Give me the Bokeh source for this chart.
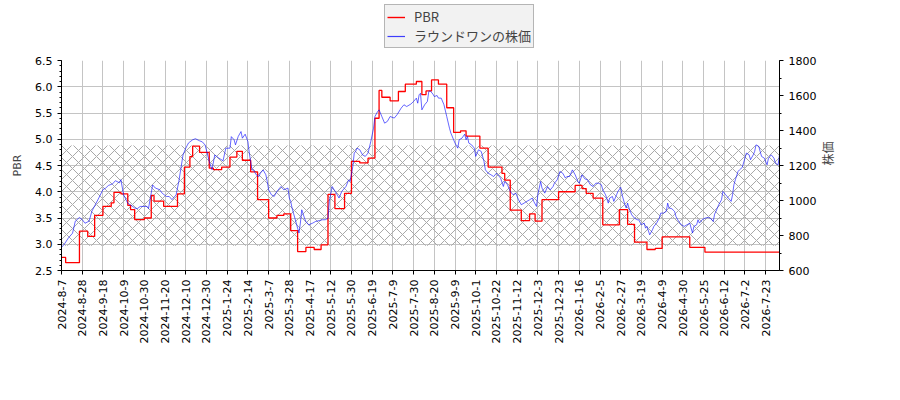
import math
from bokeh.plotting import figure
from bokeh.layouts import column
from bokeh.models import (Range1d, LinearAxis, FixedTicker, SingleIntervalTicker,
                          BoxAnnotation, Legend, LegendItem, NumeralTickFormatter)
from bokeh.embed import file_html
from bokeh.resources import INLINE

# x positions are trading-day indices; tick labels every 15 days
tick_labels = ["2024-8-7", "2024-8-28", "2024-9-18", "2024-10-9", "2024-10-30",
               "2024-11-20", "2024-12-10", "2024-12-30", "2025-1-24", "2025-2-14",
               "2025-3-7", "2025-3-28", "2025-4-17", "2025-5-12", "2025-5-30",
               "2025-6-19", "2025-7-9", "2025-7-30", "2025-8-20", "2025-9-9",
               "2025-10-1", "2025-10-22", "2025-11-12", "2025-12-3", "2025-12-23",
               "2026-1-16", "2026-2-5", "2026-2-27", "2026-3-19", "2026-4-9",
               "2026-4-30", "2026-5-25", "2026-6-12", "2026-7-2", "2026-7-23"]
tick_step = 15
last_day = 520

# PBR (step series: day where value changes, new value)
pbr_day = [0, 3, 13, 19, 24, 30, 36, 38, 43, 48, 50, 53, 60, 65, 67, 74, 84, 89,
           93, 95, 100, 107, 110, 116, 122, 127, 131, 137, 142, 150, 156, 161, 166,
           171, 177, 183, 188, 193, 198, 205, 210, 216, 222, 227, 230, 232, 238, 244,
           249, 257, 261, 264, 268, 273, 279, 284, 289, 293, 303, 309, 319, 321, 325,
           333, 339, 343, 348, 360, 372, 377, 380, 385, 392, 404, 410, 415, 424, 430,
           435, 455, 466]
pbr_val = [2.75, 2.65, 3.25, 3.15, 3.55, 3.72, 3.79, 3.99, 3.96, 3.74, 3.66, 3.47,
           3.5, 3.93, 3.82, 3.72, 3.96, 4.47, 4.67, 4.87, 4.75, 4.45, 4.42, 4.47,
           4.66, 4.77, 4.6, 4.38, 3.85, 3.5, 3.55, 3.58, 3.26, 2.86, 2.94, 2.9,
           2.99, 3.95, 3.68, 3.97, 4.58, 4.55, 4.64, 5.4, 5.93, 5.8, 5.73, 5.91,
           6.05, 6.1, 5.85, 5.92, 6.13, 6.05, 5.6, 5.13, 5.16, 5.06, 4.83, 4.47,
           4.35, 4.22, 3.65, 3.45, 3.58, 3.44, 3.85, 4.0, 4.12, 4.06, 3.97, 3.88,
           3.37, 3.66, 3.38, 3.04, 2.9, 2.92, 3.14, 2.94, 2.85]

# share price
price_day = [0, 2, 5, 8, 10, 13, 15, 17, 20, 22, 25, 27, 30, 32, 34, 37, 39, 42, 43,
             45, 48, 50, 53, 55, 57, 60, 62, 63, 66, 68, 71, 73, 76, 78, 80, 83, 85,
             88, 90, 92, 95, 97, 100, 102, 104, 107, 109, 111, 114, 117, 119, 122,
             123, 125, 126, 128, 130, 131, 133, 135, 136, 137, 138, 139, 141, 143,
             144, 146, 148, 149, 150, 152, 154, 156, 159, 161, 164, 165, 166, 167,
             168, 170, 171, 172, 173, 174, 176, 177, 179, 182, 184, 187, 189, 191,
             193, 194, 196, 199, 201, 203, 206, 208, 209, 211, 212, 213, 214, 216,
             218, 220, 222, 224, 226, 227, 229, 230, 232, 234, 236, 238, 241, 243,
             246, 248, 250, 253, 255, 257, 258, 259, 260, 261, 263, 265, 266, 267,
             269, 270, 272, 273, 275, 277, 279, 281, 282, 284, 285, 287, 288, 290,
             292, 293, 294, 295, 297, 299, 300, 301, 302, 304, 306, 307, 309, 311,
             313, 315, 316, 318, 320, 321, 323, 325, 327, 329, 331, 333, 335, 337,
             339, 341, 342, 344, 345, 347, 348, 350, 352, 354, 356, 357, 359, 361,
             363, 365, 366, 368, 370, 372, 374, 375, 377, 379, 381, 383, 385, 387,
             389, 391, 392, 394, 396, 397, 399, 400, 402, 403, 405, 406, 408, 409,
             410, 411, 413, 415, 417, 418, 420, 422, 423, 424, 426, 428, 429, 431,
             433, 434, 436, 438, 439, 440, 442, 444, 445, 447, 449, 451, 453, 455,
             456, 457, 458, 460, 461, 462, 464, 466, 468, 470, 472, 473, 474, 476,
             478, 479, 481, 483, 485, 486, 487, 488, 490, 491, 493, 495, 496, 498,
             499, 501, 502, 503, 505, 506, 507, 509, 511, 512, 514, 516, 517, 519, 520]
price_val = [732, 750, 786, 813, 882, 903, 891, 870, 882, 939, 984, 1014, 1062, 1071,
             1086, 1095, 1113, 1101, 1119, 1032, 984, 975, 957, 954, 966, 966, 966,
             954, 1089, 1071, 1062, 1041, 1023, 1023, 1005, 1032, 1110, 1260, 1299,
             1329, 1347, 1353, 1341, 1335, 1317, 1224, 1176, 1260, 1242, 1227, 1299,
             1299, 1365, 1347, 1318, 1366, 1394, 1356, 1379, 1337, 1271, 1223, 1175,
             1175, 1147, 1137, 1156, 1175, 1147, 1109, 1061, 1033, 1023, 1052, 1080,
             1061, 1071, 1014, 995, 956, 928, 871, 842, 814, 871, 947, 899, 880, 861,
             871, 880, 886, 890, 890, 899, 995, 1080, 1042, 1014, 1052, 1080, 1118,
             1109, 1194, 1271, 1280, 1299, 1290, 1261, 1252, 1271, 1337, 1413, 1480,
             1509, 1518, 1480, 1442, 1452, 1480, 1471, 1490, 1528, 1547, 1537, 1551,
             1566, 1585, 1556, 1604, 1613, 1518, 1547, 1566, 1623, 1627, 1608, 1594,
             1600, 1585, 1585, 1547, 1480, 1413, 1385, 1347, 1328, 1299, 1347, 1356,
             1379, 1347, 1366, 1328, 1318, 1299, 1252, 1271, 1290, 1280, 1223, 1175,
             1156, 1147, 1137, 1156, 1147, 1128, 1080, 1109, 1090, 1052, 1033, 1042,
             1004, 976, 985, 995, 1004, 1014, 995, 966, 1033, 1109, 1071, 1042, 1080,
             1061, 1080, 1099, 1118, 1166, 1156, 1128, 1137, 1137, 1175, 1147, 1109,
             1099, 1147, 1124, 1118, 1090, 1080, 1099, 1099, 1090, 1061, 1033, 985,
             1014, 1023, 995, 1033, 1052, 1075, 1033, 976, 957, 985, 957, 918, 899,
             890, 890, 861, 871, 842, 852, 804, 833, 852, 871, 899, 928, 928, 938,
             985, 957, 953, 938, 909, 880, 861, 852, 861, 871, 842, 814, 852, 861,
             890, 871, 890, 899, 903, 899, 880, 922, 938, 976, 1004, 1052, 1033, 1014,
             995, 1033, 1090, 1118, 1166, 1175, 1189, 1242, 1271, 1261, 1233, 1261,
             1280, 1318, 1309, 1280, 1252, 1242, 1204, 1242, 1261, 1242, 1214, 1204,
             1261]

# hatched PBR band
band_low = 2.97
band_high = 4.88

font = "DejaVu Sans"
jp_font = "Noto Sans CJK JP"
fs = "11px"
pbr_color = "red"
price_color = "blue"

p = figure(width=884, height=336, output_backend="svg", toolbar_location=None,
           x_range=Range1d(0, last_day), y_range=Range1d(2.5, 6.5),
           min_border_left=61, min_border_right=105, min_border_top=12,
           min_border_bottom=114)
p.outline_line_color = None
p.background_fill_color = "white"

p.extra_y_ranges = {"price": Range1d(600, 1800)}

band = BoxAnnotation(bottom=band_low, top=band_high, fill_alpha=0, line_color=None,
                     hatch_pattern="x", hatch_color="#a8a8a8", hatch_scale=12,
                     hatch_weight=1, hatch_alpha=1, level="underlay")
p.add_layout(band)

step_x = pbr_day + [last_day]
step_y = pbr_val + [pbr_val[-1]]
p.step(step_x, step_y, mode="after", line_color=pbr_color, line_width=1.3)
p.line(price_day, price_val, line_color=price_color, line_alpha=0.75,
       line_width=0.8, y_range_name="price")

ticks = [i * tick_step for i in range(len(tick_labels))]
p.xaxis.ticker = FixedTicker(ticks=ticks, minor_ticks=[])
p.xaxis.major_label_overrides = {t: lab for t, lab in zip(ticks, tick_labels)}
p.xaxis.major_label_orientation = math.pi / 2

p.yaxis.ticker = SingleIntervalTicker(interval=0.5, num_minor_ticks=5)
p.yaxis.formatter = NumeralTickFormatter(format="0.0")
p.yaxis.axis_label = "PBR"

right = LinearAxis(y_range_name="price", axis_label="株価",
                   ticker=SingleIntervalTicker(interval=200, num_minor_ticks=2))
p.add_layout(right, "right")
if hasattr(right, "axis_label_orientation"):
    right.axis_label_orientation = math.pi / 2

for ax in p.xaxis + p.yaxis + [right]:
    ax.major_label_text_font = font
    ax.major_label_text_font_size = fs
    ax.major_label_text_color = "black"
    ax.axis_label_text_font_size = fs
    ax.axis_label_text_font_style = "normal"
    ax.axis_label_text_font = font
    ax.axis_line_color = "black"
    ax.major_tick_in = 0
    ax.major_tick_out = 4
    ax.minor_tick_in = 0
    ax.minor_tick_out = 2
    ax.major_tick_line_color = "black"
    ax.minor_tick_line_color = "black"
right.axis_label_text_font = jp_font
right.axis_label_text_font_size = "12px"
right.axis_label_standoff = 14
p.yaxis.axis_label_standoff = 8

p.xgrid.ticker = FixedTicker(ticks=ticks)
p.xgrid.grid_line_color = "#c4c4c4"
p.ygrid.grid_line_color = "#c4c4c4"
p.xgrid.grid_line_width = 1
p.ygrid.grid_line_width = 1

# legend sits in a strip above the chart (frames of the column are aligned)
lf = figure(width=884, height=48, output_backend="svg", toolbar_location=None,
            min_border=0, x_range=Range1d(0, 1), y_range=Range1d(0, 1))
lf.axis.visible = False
lf.grid.visible = False
lf.outline_line_color = None
l_pbr = lf.line([-2, -1], [-2, -1], line_color=pbr_color, line_width=1.4)
l_price = lf.line([-2, -1], [-2, -1], line_color=price_color, line_alpha=0.75,
                  line_width=1.2)

legend = Legend(items=[LegendItem(label="PBR", renderers=[l_pbr]),
                       LegendItem(label="ラウンドワンの株価", renderers=[l_price])],
                location=(323, 0), orientation="vertical")
legend.label_text_font = jp_font
legend.label_text_font_size = "13px"
legend.background_fill_color = "#f2f2f2"
legend.background_fill_alpha = 1
legend.border_line_color = "#777777"
legend.border_line_width = 1
legend.glyph_width = 18
legend.glyph_height = 12
legend.label_standoff = 9
legend.spacing = 0
legend.padding = 2
legend.margin = 0
legend.label_height = 13
lf.add_layout(legend)

open("out.html", "w").write(file_html(column(lf, p, spacing=0), INLINE))
